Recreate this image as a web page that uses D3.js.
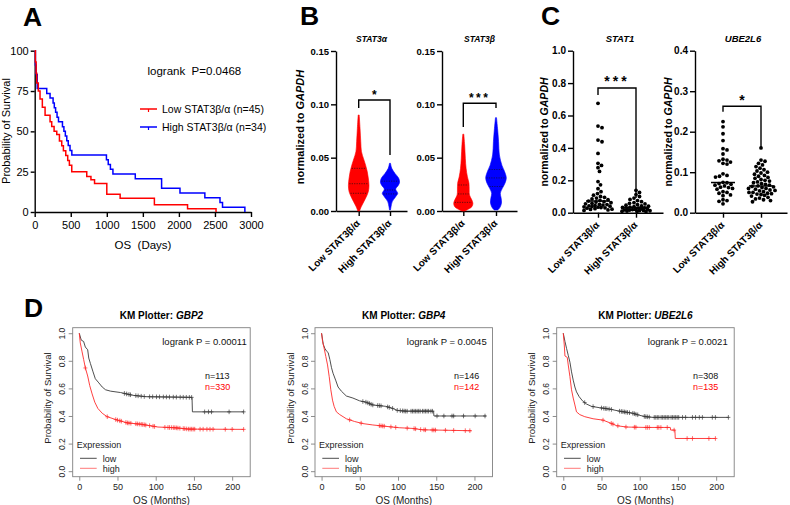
<!DOCTYPE html>
<html><head><meta charset="utf-8">
<script src="https://cdn.jsdelivr.net/npm/d3@7"></script>
<style>
body{margin:0;background:#fff;}
svg{display:block;font-family:"Liberation Sans",Arial,sans-serif;}
</style></head><body>
<svg id="c" width="790" height="505"></svg>
<script>
// ---------------- DATA ----------------
// Panel A : KM (days, % survival)
const aTicksX = [0, 500, 1000, 1500, 2000, 2500, 3000];
const aTicksY = [0, 25, 50, 75, 100];
const aLowTimes = [0, 10, 20, 28, 50, 74, 106, 144, 213, 236, 269, 306, 343, 375, 398, 431, 458, 481, 514, 722, 780, 830, 1000, 1185, 1660, 2120, 2515];
const aLowSurv  = [100, 93, 86, 80, 75, 70, 65, 60, 56, 53, 50, 48, 44, 41, 38, 35, 32, 29, 25, 22, 20, 17.7, 11, 8.5, 4.5, 2, 0];
const aHighTimes = [0, 10, 20, 35, 167, 213, 255, 272, 290, 310, 330, 385, 405, 425, 445, 465, 490, 515, 995, 1020, 1050, 1085, 1395, 1760, 2015, 2360, 2570, 2605, 2915];
const aHighSurv  = [100, 91.2, 85.3, 76.5, 73.5, 70.6, 67.6, 64.7, 61.8, 58.8, 55.9, 52.9, 50, 47.1, 44.1, 41.2, 38.2, 35.3, 32.4, 29.4, 26.5, 23.5, 20.6, 14.7, 11.8, 8.8, 5.9, 2.9, 0];
const aLegend = ["Low STAT3β/α (n=45)", "High STAT3β/α (n=34)"];
const aLogrank = "logrank  P=0.0468";

// Panels B / C groups
const groups = ["Low STAT3β/α", "High STAT3β/α"];

// Panel B : violins  [value, relative density]
const bTitles = ["STAT3α", "STAT3β"];
const bTicks = [0, 0.05, 0.10, 0.15];
const vStat3aLow  = [[0,0.1],[0.001,0.12],[0.0056,0.33],[0.012,0.67],[0.018,0.93],[0.024,1.0],[0.031,0.93],[0.037,0.83],[0.043,0.67],[0.049,0.47],[0.0556,0.27],[0.065,0.2],[0.0775,0.13],[0.09,0.05]];
const vStat3aHigh = [[0.001,0.05],[0.004,0.1],[0.0088,0.22],[0.0134,0.55],[0.0166,0.75],[0.0205,0.55],[0.024,0.8],[0.027,0.93],[0.031,0.83],[0.035,0.5],[0.040,0.17],[0.0447,0.05]];
const vStat3bLow  = [[0,0.12],[0.001,0.35],[0.004,0.83],[0.0072,0.93],[0.0103,0.83],[0.015,0.6],[0.0197,0.57],[0.026,0.55],[0.032,0.4],[0.040,0.27],[0.049,0.2],[0.062,0.13],[0.072,0.05]];
const vStat3bHigh = [[0.001,0.17],[0.0025,0.33],[0.0072,0.53],[0.012,0.5],[0.0166,0.42],[0.021,0.6],[0.026,0.87],[0.031,1.0],[0.037,0.83],[0.043,0.57],[0.0525,0.33],[0.065,0.25],[0.0775,0.15],[0.0875,0.05]];
const qStat3aLow  = [0.0166, 0.0256, 0.040];
const qStat3aHigh = [0.016, 0.0197, 0.028];
const qStat3bLow  = [0.0081, 0.016, 0.0244];
const qStat3bHigh = [0.023, 0.031, 0.039];
const bStars = ["*", "***"];
const bBrackets = [[0.104, 0.0966, 0.0525], [0.101, 0.0788, 0.0966]]; // top, left leg end, right leg end

// Panel C : scatter values
const cTitles = ["STAT1", "UBE2L6"];
const cTicks1 = [0, 0.2, 0.4, 0.6, 0.8, 1.0];
const cTicks2 = [0, 0.1, 0.2, 0.3, 0.4];
const stat1Low = [0.675, 0.535, 0.525, 0.448, 0.438, 0.366, 0.305, 0.292, 0.278, 0.255, 0.192, 0.172, 0.148, 0.13, 0.118, 0.108, 0.1, 0.095, 0.09, 0.085, 0.08, 0.076, 0.072, 0.068, 0.066, 0.062, 0.058, 0.055, 0.052, 0.05, 0.047, 0.045, 0.042, 0.04, 0.038, 0.036, 0.034, 0.032, 0.03, 0.028, 0.025, 0.022, 0.02, 0.017, 0.014];
const stat1High = [0.138, 0.125, 0.112, 0.1, 0.09, 0.082, 0.075, 0.068, 0.062, 0.058, 0.054, 0.05, 0.046, 0.042, 0.04, 0.037, 0.034, 0.032, 0.03, 0.028, 0.026, 0.024, 0.022, 0.02, 0.019, 0.017, 0.016, 0.014, 0.013, 0.012, 0.01, 0.009, 0.008, 0.006];
const ubeLow = [0.225, 0.212, 0.195, 0.178, 0.158, 0.155, 0.145, 0.132, 0.13, 0.128, 0.125, 0.122, 0.12, 0.068, 0.096, 0.092, 0.09, 0.088, 0.075, 0.074, 0.072, 0.07, 0.066, 0.063, 0.062, 0.06, 0.058, 0.052, 0.05, 0.048, 0.044, 0.042, 0.032, 0.03, 0.028, 0.022];
const ubeHigh = [0.16, 0.13, 0.127, 0.122, 0.118, 0.114, 0.11, 0.106, 0.103, 0.1, 0.098, 0.095, 0.092, 0.09, 0.087, 0.085, 0.082, 0.08, 0.078, 0.076, 0.074, 0.072, 0.07, 0.068, 0.066, 0.065, 0.064, 0.062, 0.06, 0.058, 0.056, 0.054, 0.052, 0.05, 0.048, 0.046, 0.045, 0.043, 0.041, 0.038, 0.036, 0.034, 0.032, 0.03, 0.027, 0.05, 0.055, 0.06, 0.047];
const cStars = ["***", "*"];
const cBrackets = [[0.77, 0.727, 0.091], [0.263, 0.249, 0.162]];

// Panel D : KM plotter (months, survival)
const dGenes = ["GBP2", "GBP4", "UBE2L6"];
const dLogrank = ["0.00011", "0.0045", "0.0021"];
const dNLow = [113, 146, 308];
const dNHigh = [330, 142, 135];
const dXTicks = [0, 50, 100, 150, 200];
const dYTicks = [0, 0.2, 0.4, 0.6, 0.8, 1.0];
const gbp2LowT = [0, 2.6, 5.7, 7.9, 11, 12.4, 14.6, 18, 21, 25.6, 30, 34.4, 41, 54, 70, 87, 147.5, 148, 215];
const gbp2LowS = [1, 0.95, 0.94, 0.90, 0.88, 0.82, 0.78, 0.72, 0.67, 0.64, 0.61, 0.59, 0.58, 0.57, 0.55, 0.54, 0.535, 0.43, 0.43];
const gbp2HighT = [0, 1.3, 3.5, 5.7, 7.9, 11, 13.7, 16.8, 20.3, 24.3, 30, 36.4, 50, 63, 81, 103, 125, 143, 215];
const gbp2HighS = [1, 0.93, 0.87, 0.81, 0.75, 0.69, 0.62, 0.56, 0.50, 0.455, 0.42, 0.395, 0.37, 0.35, 0.34, 0.32, 0.315, 0.305, 0.303];
const gbp2LowC = [59, 62, 65, 67, 74, 77, 81, 85, 92, 96, 101, 105, 110, 114, 118, 123, 127, 132, 136, 140, 144, 147, 164, 169, 173, 196, 215];
const gbp2HighC = [8, 36.6, 47.7, 50, 53, 55, 61, 63, 65, 67.5, 74, 76, 78.5, 81, 83, 85, 87, 92, 96.5, 98.5, 112, 116, 118, 120.5, 123, 125, 127, 129, 131.6, 136, 138, 140.5, 143, 145, 147, 149, 151, 158, 162, 167, 171, 175, 191, 200, 215];
const gbp4LowT = [0, 2.2, 4.3, 6.5, 8.6, 10.8, 13, 15, 18.4, 21.6, 25.9, 32.4, 41, 49.7, 58.3, 67, 84, 92.9, 99.4, 110, 146.5, 147, 215];
const gbp4LowS = [1, 0.92, 0.89, 0.87, 0.86, 0.81, 0.75, 0.71, 0.66, 0.61, 0.58, 0.545, 0.53, 0.51, 0.50, 0.48, 0.47, 0.455, 0.44, 0.435, 0.435, 0.40, 0.40];
const gbp4HighT = [0, 1.3, 3, 5.6, 7.8, 10, 12.1, 14.3, 16.4, 19.4, 23.8, 32.4, 43.2, 54, 67, 84, 101.5, 119, 132, 196];
const gbp4HighS = [1, 0.94, 0.90, 0.83, 0.77, 0.685, 0.59, 0.515, 0.47, 0.43, 0.41, 0.38, 0.36, 0.345, 0.335, 0.325, 0.315, 0.31, 0.30, 0.293];
const gbp4LowC = [54, 58, 60.5, 62.6, 64.8, 67, 73.4, 75.6, 77.8, 86.4, 88.6, 92.9, 99, 103, 106, 108, 110, 112, 117, 119, 121, 123, 125, 127, 129, 132, 134, 136, 138, 140, 143, 145, 151, 160, 170.6, 172.8, 185.7, 200.9, 213.8];
const gbp4HighC = [36.7, 51.8, 75.6, 77.8, 80, 82, 90.7, 97, 112, 121, 123, 129.6, 134, 136, 144.7, 146.9, 149, 162, 172.8, 188, 194];
const ubeLowT = [0, 2.2, 4.3, 6.5, 8.7, 10.8, 13, 15.2, 17.3, 20.8, 25.1, 30.3, 36.8, 47.6, 60.6, 73.6, 90.9, 99.6, 108, 117, 216];
const ubeLowS = [1, 0.94, 0.89, 0.84, 0.79, 0.72, 0.66, 0.61, 0.575, 0.54, 0.51, 0.487, 0.47, 0.46, 0.45, 0.435, 0.42, 0.405, 0.395, 0.39, 0.39];
const ubeHighT = [0, 1.3, 2.2, 5.2, 6.5, 8.7, 10.8, 13, 15.2, 17.3, 21.6, 28.1, 39, 52, 63, 69.7, 82.7, 108, 140, 140.5, 146, 146.5, 199];
const ubeHighS = [1, 0.915, 0.835, 0.825, 0.77, 0.685, 0.59, 0.53, 0.48, 0.43, 0.41, 0.395, 0.38, 0.37, 0.346, 0.33, 0.32, 0.317, 0.317, 0.298, 0.298, 0.237, 0.237];
const ubeLowC = [28, 39, 50, 53, 55, 57, 60, 63, 73.6, 76, 78, 80, 82, 84, 86.6, 91, 93, 95, 97.4, 106, 108, 110, 112.5, 119, 121, 123, 125, 128, 130, 132, 134, 136, 138, 141, 143, 145, 147, 149, 151, 156, 160, 169, 173, 178, 182, 195, 199, 216];
const ubeHighC = [52, 62.8, 65, 71.4, 82, 93, 95, 108, 110, 112.5, 123, 125, 127.7, 136, 145, 162, 169, 190.5, 199];

// ---------------- DRAWING ----------------
const svg = d3.select("#c");
const FONT = '"Liberation Sans", Arial, sans-serif';

function styleAxis(g, size, bold, sw) {
  g.attr("font-family", FONT).attr("font-size", size).attr("font-weight", bold ? "bold" : "normal");
  g.selectAll(".domain").attr("stroke", "#000").attr("stroke-width", sw);
  g.selectAll(".tick line").attr("stroke", "#000").attr("stroke-width", sw);
  g.selectAll(".tick text").attr("fill", "#000");
}

// panel letters
[["A", 23, 26], ["B", 300, 25], ["C", 541, 25], ["D", 24, 317]].forEach(([t, x, y]) => {
  svg.append("text").attr("x", x).attr("y", y).attr("font-size", 26.5).attr("font-weight", "bold").text(t);
});

// ---------- Panel A ----------
{
  const g = svg.append("g");
  const x = d3.scaleLinear().domain([0, 3000]).range([34.7, 251]);
  const y = d3.scaleLinear().domain([0, 100]).range([212, 50.7]);
  const gx = g.append("g").attr("transform", "translate(0,212)")
    .call(d3.axisBottom(x).tickValues(aTicksX).tickFormat(d3.format("d")).tickSize(5).tickSizeOuter(0).tickPadding(4));
  styleAxis(gx, 11, false, 1.4);
  const gy = g.append("g").attr("transform", "translate(34.7,0)")
    .call(d3.axisLeft(y).tickValues(aTicksY).tickSize(4).tickSizeOuter(0).tickPadding(2));
  styleAxis(gy, 11, false, 1.4);
  const line = d3.line().x(d => x(d[0])).y(d => y(d[1])).curve(d3.curveStepAfter);
  g.append("path").datum(d3.zip(aHighTimes, aHighSurv)).attr("d", line).attr("fill", "none").attr("stroke", "#0000ff").attr("stroke-width", 1.5);
  g.append("path").datum(d3.zip(aLowTimes, aLowSurv)).attr("d", line).attr("fill", "none").attr("stroke", "#ff0000").attr("stroke-width", 1.5);
  g.append("text").attr("x", 143).attr("y", 249).attr("text-anchor", "middle").attr("font-size", 11.5).attr("xml:space", "preserve").text("OS  (Days)");
  g.append("text").attr("transform", "translate(10,131) rotate(-90)").attr("text-anchor", "middle").attr("font-size", 11).text("Probability of Survival");
  g.append("text").attr("x", 147.5).attr("y", 74.5).attr("font-size", 11.5).attr("xml:space", "preserve").text(aLogrank);
  const cols = ["#ff0000", "#0000ff"];
  aLegend.forEach((t, i) => {
    const ly = 109 + i * 18;
    g.append("line").attr("x1", 140).attr("x2", 157).attr("y1", ly).attr("y2", ly).attr("stroke", cols[i]).attr("stroke-width", 1.5);
    g.append("line").attr("x1", 148.5).attr("x2", 148.5).attr("y1", ly).attr("y2", ly + 3).attr("stroke", cols[i]).attr("stroke-width", 1.2);
    g.append("text").attr("x", 162).attr("y", ly + 4).attr("font-size", 10.5).text(t);
  });
}

// helper: y-axis title with italic GAPDH
function gapdhTitle(g, x, y, size) {
  const t = g.append("text").attr("transform", `translate(${x},${y}) rotate(-90)`).attr("text-anchor", "middle")
    .attr("font-size", size).attr("font-weight", "bold");
  t.append("tspan").text("normalized to ");
  t.append("tspan").attr("font-style", "italic").text("GAPDH");
}
function groupLabels(g, xs, axisY, size) {
  groups.forEach((lab, i) => {
    g.append("text").attr("transform", `translate(${xs[i] + 2},${axisY + 13}) rotate(-45)`)
      .attr("text-anchor", "end").attr("font-size", size).attr("font-weight", "bold").text(lab);
  });
}
function bracket(g, x1, x2, y, yt, yl, yr, star, size, ls) {
  g.append("path").attr("d", `M${x1},${y(yl)}V${y(yt)}H${x2}V${y(yr)}`).attr("fill", "none").attr("stroke", "#000").attr("stroke-width", 1.4);
  g.append("text").attr("x", (x1 + x2) / 2).attr("y", y(yt) - 1.5).attr("text-anchor", "middle").attr("font-size", size)
    .attr("font-weight", "bold").attr("letter-spacing", ls).text(star);
}

// ---------- Panel B ----------
{
  const defs = [
    { ax: 336, xe: 407, cx: [358.7, 390], title: bTitles[0], v: [vStat3aLow, vStat3aHigh], q: [qStat3aLow, qStat3aHigh], star: bStars[0], br: bBrackets[0] },
    { ax: 442, xe: 517, cx: [463.3, 496], title: bTitles[1], v: [vStat3bLow, vStat3bHigh], q: [qStat3bLow, qStat3bHigh], star: bStars[1], br: bBrackets[1] }
  ];
  const w = d3.scaleLinear().domain([0, 1]).range([0, 10.3]);
  const cols = ["#ff0000", "#0000ff"];
  defs.forEach((d, k) => {
    const g = svg.append("g");
    const y = d3.scaleLinear().domain([0, 0.15]).range([211, 51]);
    const gy = g.append("g").attr("transform", `translate(${d.ax},0)`)
      .call(d3.axisLeft(y).tickValues(bTicks).tickFormat(d3.format(".2f")).tickSize(5).tickSizeOuter(0).tickPadding(2));
    styleAxis(gy, 9.5, true, 1.4);
    const xs = d3.scaleOrdinal().domain(groups).range(d.cx);
    const gx = g.append("g").attr("transform", "translate(0,211)")
      .call(d3.axisBottom(d3.scaleLinear().domain([d.ax, d.xe]).range([d.ax, d.xe])).tickValues(d.cx).tickFormat("").tickSize(5).tickSizeOuter(0));
    styleAxis(gx, 9, true, 1.4);
    groups.forEach((gr, i) => {
      const cx = xs(gr);
      const area = d3.area().y(p => y(p[0])).x0(p => cx - w(p[1])).x1(p => cx + w(p[1])).curve(d3.curveCatmullRom);
      g.append("path").datum(d.v[i]).attr("d", area).attr("fill", cols[i]).attr("stroke", cols[i]).attr("stroke-width", 0.6);
      const dens = d3.scaleLinear().domain(d.v[i].map(p => p[0])).range(d.v[i].map(p => p[1]));
      d.q[i].forEach(qv => {
        const hw = w(dens(qv)) - 0.8;
        g.append("line").attr("x1", cx - hw).attr("x2", cx + hw).attr("y1", y(qv)).attr("y2", y(qv))
          .attr("stroke", "#111").attr("stroke-width", 0.8).attr("stroke-dasharray", "1.2,1.2").attr("opacity", 0.8);
      });
    });
    g.append("text").attr("x", (d.ax + d.xe) / 2).attr("y", 41.5).attr("text-anchor", "middle").attr("font-size", 8.5)
      .attr("font-weight", "bold").attr("font-style", "italic").text(d.title);
    bracket(g, d.cx[0], d.cx[1], y, d.br[0], d.br[1], d.br[2], d.star, 12, d.star.length > 1 ? 2.5 : 0);
    if (k === 0) gapdhTitle(g, 304, 127, 11);
    groupLabels(g, d.cx, 211, 10);
  });
}

// ---------- Panel C ----------
// beeswarm: closest free offset within +-maxOff, else the least crowded one
function swarm(vals, y, cx, dd, maxOff) {
  const pts = vals.map(v => ({ v, y: y(v) })).sort((a, b) => a.y - b.y);
  const placed = [];
  const offs = [0];
  for (let o = 0.5; o <= maxOff; o += 0.5) { offs.push(o, -o); }
  pts.forEach(p => {
    let best = null, bestD = -1;
    for (const off of offs) {
      const xx = cx + off;
      let md = Infinity;
      for (const q of placed) { const dist = Math.hypot(q.x - xx, q.y - p.y); if (dist < md) md = dist; }
      if (md >= dd) { best = xx; bestD = md; break; }
      if (md > bestD + 0.3) { bestD = md; best = xx; }
    }
    p.x = best; placed.push(p);
  });
  return placed;
}
{
  const defs = [
    { ax: 573, xe: 663, cx: [598, 636], title: cTitles[0], dom: [0, 1], ticks: cTicks1, fmt: ".1f", data: [stat1Low, stat1High], star: cStars[0], br: cBrackets[0], ytx: 548 },
    { ax: 695, xe: 787, cx: [723, 761], title: cTitles[1], dom: [0, 0.4], ticks: cTicks2, fmt: ".1f", data: [ubeLow, ubeHigh], star: cStars[1], br: cBrackets[1], ytx: 672 }
  ];
  defs.forEach(d => {
    const g = svg.append("g");
    const y = d3.scaleLinear().domain(d.dom).range([212.7, 50.7]);
    const gy = g.append("g").attr("transform", `translate(${d.ax},0)`)
      .call(d3.axisLeft(y).tickValues(d.ticks).tickFormat(d3.format(d.fmt)).tickSize(5).tickSizeOuter(0).tickPadding(2));
    styleAxis(gy, 10, true, 1.4);
    const gx = g.append("g").attr("transform", "translate(0,212.7)")
      .call(d3.axisBottom(d3.scaleLinear().domain([d.ax, d.xe]).range([d.ax, d.xe])).tickValues(d.cx).tickFormat("").tickSize(5).tickSizeOuter(0));
    styleAxis(gx, 9, true, 1.4);
    d.data.forEach((vals, i) => {
      const pts = swarm(vals, y, d.cx[i], 3.9, 14);
      g.selectAll(null).data(pts).join("circle").attr("cx", p => p.x).attr("cy", p => p.y).attr("r", 1.9).attr("fill", "#000");
      const med = d3.median(vals);
      g.append("line").attr("x1", d.cx[i] - 12).attr("x2", d.cx[i] + 12).attr("y1", y(med)).attr("y2", y(med)).attr("stroke", "#000").attr("stroke-width", 1.5);
    });
    g.append("text").attr("x", (d.ax + d.xe) / 2 + 2).attr("y", 41.5).attr("text-anchor", "middle").attr("font-size", 9.5)
      .attr("font-weight", "bold").attr("font-style", "italic").text(d.title);
    bracket(g, d.cx[0], d.cx[1], y, d.br[0], d.br[1], d.br[2], d.star, 14, d.star.length > 1 ? 3 : 0);
    gapdhTitle(g, d.ytx, 132, 10.5);
    groupLabels(g, d.cx, 212.7, 10);
  });
}

// ---------- Panel D ----------
{
  const panels = [
    { left: 72.7, lowT: gbp2LowT, lowS: gbp2LowS, highT: gbp2HighT, highS: gbp2HighS, lowC: gbp2LowC, highC: gbp2HighC, pr: 246.7, nx: 205 },
    { left: 315, lowT: gbp4LowT, lowS: gbp4LowS, highT: gbp4HighT, highS: gbp4HighS, lowC: gbp4LowC, highC: gbp4HighC, pr: 486.7, nx: 454 },
    { left: 556.7, lowT: ubeLowT, lowS: ubeLowS, highT: ubeHighT, highS: ubeHighS, lowC: ubeLowC, highC: ubeHighC, pr: 727.7, nx: 693 }
  ];
  const top = 327.7, bottom = 476.7, W = 177.5;
  const lowCol = "#3a3a3a", highCol = "#ff2a2a";
  panels.forEach((p, k) => {
    const g = svg.append("g");
    const x = d3.scaleLinear().domain([-8.6, 223.6]).range([p.left, p.left + W]);
    const y = d3.scaleLinear().domain([-0.04, 1.04]).range([bottom, top]);
    g.append("rect").attr("x", p.left).attr("y", top).attr("width", W).attr("height", bottom - top)
      .attr("fill", "none").attr("stroke", "#808080").attr("stroke-width", 0.9);
    const gx = g.append("g").attr("transform", `translate(0,${bottom})`)
      .call(d3.axisBottom(x).tickValues(dXTicks).tickSize(4).tickSizeOuter(0).tickPadding(3));
    gx.select(".domain").remove();
    gx.attr("font-family", FONT).attr("font-size", 9);
    gx.selectAll(".tick line").attr("stroke", "#808080").attr("stroke-width", 0.9);
    gx.selectAll(".tick text").attr("fill", "#222");
    const gy = g.append("g").attr("transform", `translate(${p.left},0)`)
      .call(d3.axisLeft(y).tickValues(dYTicks).tickFormat(d3.format(".1f")).tickSize(4).tickSizeOuter(0));
    gy.select(".domain").remove();
    gy.selectAll(".tick line").attr("stroke", "#808080").attr("stroke-width", 0.9);
    gy.selectAll(".tick text").attr("fill", "#222").attr("font-family", FONT).attr("font-size", 8.5)
      .attr("x", null).attr("dy", null).attr("text-anchor", "middle").attr("transform", "translate(-7.5,0) rotate(-90)");
    const line = d3.line().x(d => x(d[0])).y(d => y(d[1]));
    const curves = [[p.lowT, p.lowS, p.lowC, lowCol], [p.highT, p.highS, p.highC, highCol]];
    curves.forEach(([T, S, C, col]) => {
      g.append("path").datum(d3.zip(T, S)).attr("d", line).attr("fill", "none").attr("stroke", col).attr("stroke-width", 0.9);
      const interp = d3.scaleLinear().domain(T).range(S);
      g.selectAll(null).data(C).join("path")
        .attr("d", t => { const cx = x(t), cy = y(interp(t)); return `M${cx - 2},${cy}H${cx + 2}M${cx},${cy - 2.3}V${cy + 2.3}`; })
        .attr("stroke", col).attr("stroke-width", 0.7).attr("fill", "none");
    });
    const cxm = p.left + W / 2;
    const tt = g.append("text").attr("x", cxm).attr("y", 318.5).attr("text-anchor", "middle").attr("font-size", 10).attr("font-weight", "bold");
    tt.append("tspan").text("KM Plotter: ");
    tt.append("tspan").attr("font-style", "italic").text(dGenes[k]);
    g.append("text").attr("x", p.pr).attr("y", 345).attr("text-anchor", "end").attr("font-size", 9.5).attr("fill", "#111").text(`logrank P = ${dLogrank[k]}`);
    g.append("text").attr("x", p.nx).attr("y", 378.5).attr("font-size", 9).attr("fill", "#111").text(`n=${dNLow[k]}`);
    g.append("text").attr("x", p.nx).attr("y", 390).attr("font-size", 9).attr("fill", "#ff0000").text(`n=${dNHigh[k]}`);
    g.append("text").attr("x", cxm).attr("y", 503.5).attr("text-anchor", "middle").attr("font-size", 10).attr("fill", "#222").text("OS (Months)");
    g.append("text").attr("transform", `translate(${p.left - 21.5},398) rotate(-90)`).attr("text-anchor", "middle").attr("font-size", 9.5).attr("fill", "#222").text("Probability of Survival");
    // legend
    g.append("text").attr("x", p.left + 4).attr("y", 448).attr("font-size", 9).attr("fill", "#222").text("Expression");
    [["low", lowCol, 458.3], ["high", "#ff6a6a", 468.3]].forEach(([lab, col, ly]) => {
      g.append("line").attr("x1", p.left + 7.3).attr("x2", p.left + 24).attr("y1", ly).attr("y2", ly).attr("stroke", col).attr("stroke-width", 0.9);
      g.append("text").attr("x", p.left + 30).attr("y", ly + 3.5).attr("font-size", 9).attr("fill", "#222").text(lab);
    });
  });
}
</script></body></html>
